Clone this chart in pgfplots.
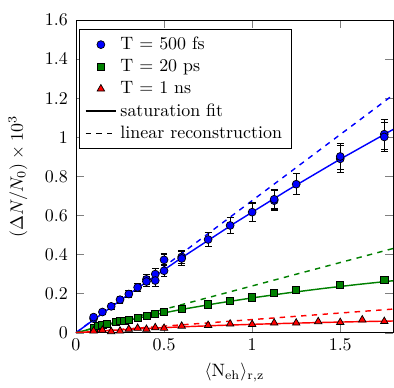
\documentclass[border=0pt]{standalone}
\usepackage{pgfplots}
\pgfplotsset{compat=1.18}
\definecolor{dgreen}{RGB}{0,128,0}
\begin{document}
\begin{tikzpicture}
\begin{axis}[
  scale only axis,
  width=177pt, height=174.5pt,
  xmin=0, xmax=1.8, ymin=0, ymax=1.6,
  xtick={0,0.5,1,1.5},
  ytick={0,0.2,0.4,0.6,0.8,1,1.2,1.4,1.6},
  yticklabel style={/pgf/number format/fixed},
  xlabel={$\langle \mathrm{N}_{\mathrm{eh}}\rangle_{\mathrm{r,z}}$},
  ylabel={$(\Delta N/N_0)\times 10^3$},
  ylabel shift=3pt,
  yticklabel shift=1pt,
  legend cell align=left,
  legend style={at={(0.01,0.97)}, anchor=north west},
]
% fits (forget plot)
\addplot[blue, thick, forget plot] coordinates {(0,0) (0.3,0.1972) (0.6,0.3839) (0.9,0.5608) (1.2,0.7287) (1.5,0.8883) (1.8,1.0402)};
\addplot[blue, thick, dashed, forget plot] coordinates {(0,0) (1.8,1.217)};
\addplot[dgreen, thick, forget plot] coordinates {(0,0) (0.2,0.0449) (0.4,0.0843) (0.6,0.1192) (0.8,0.1503) (1.0,0.1782) (1.2,0.2034) (1.4,0.2262) (1.6,0.2470) (1.8,0.2660)};
\addplot[dgreen, thick, dashed, forget plot] coordinates {(0,0) (1.8,0.431)};
\addplot[red, thick, forget plot] coordinates {(0,0) (0.2,0.0121) (0.4,0.0219) (0.6,0.0301) (0.8,0.0370) (1.0,0.0429) (1.2,0.0480) (1.4,0.0525) (1.6,0.0565) (1.8,0.0600)};
\addplot[red, thick, dashed, forget plot] coordinates {(0,0) (1.8,0.121)};
% data
\addplot[only marks, mark=*, mark size=2.2pt, mark options={fill=blue, draw=black},
  error bars/.cd, y dir=both, y explicit, error bar style={black, semithick},
  error mark options={rotate=90, mark size=1.9pt, black, semithick}]
  coordinates {
  (0.1,0.072) +- (0,0.01)
  (0.1,0.080) +- (0,0.01)
  (0.15,0.106) +- (0,0.012)
  (0.2,0.135) +- (0,0.015)
  (0.25,0.169) +- (0,0.017)
  (0.3,0.198) +- (0,0.02)
  (0.35,0.232) +- (0,0.02)
  (0.4,0.273) +- (0,0.025)
  (0.4,0.262) +- (0,0.025)
  (0.45,0.300) +- (0,0.03)
  (0.45,0.267) +- (0,0.03)
  (0.5,0.373) +- (0,0.03)
  (0.5,0.317) +- (0,0.03)
  (0.6,0.388) +- (0,0.035)
  (0.6,0.380) +- (0,0.035)
  (0.75,0.477) +- (0,0.038)
  (0.875,0.549) +- (0,0.043)
  (1.0,0.617) +- (0,0.047)
  (1.125,0.676) +- (0,0.05)
  (1.125,0.683) +- (0,0.05)
  (1.25,0.760) +- (0,0.055)
  (1.5,0.890) +- (0,0.068)
  (1.5,0.902) +- (0,0.068)
  (1.75,1.016) +- (0,0.076)
  (1.75,1.002) +- (0,0.076)
  };
\addlegendentry{T = 500 fs}
\addplot[only marks, mark=square*, mark size=2pt, mark options={fill=dgreen, draw=black}]
  coordinates {
  (0.1,0.024) (0.125,0.036) (0.15,0.039) (0.175,0.046) (0.225,0.056) (0.25,0.059)
  (0.275,0.062) (0.3,0.065) (0.35,0.076) (0.4,0.085) (0.45,0.096) (0.5,0.106)
  (0.6,0.123) (0.75,0.145) (0.875,0.164) (1.0,0.181) (1.125,0.203) (1.25,0.219)
  (1.5,0.244) (1.75,0.270)
  };
\addlegendentry{T = 20 ps}
\addplot[only marks, mark=triangle*, mark size=2.4pt, mark options={fill=red, draw=black}]
  coordinates {
  (0.1,0.009) (0.15,0.013) (0.2,0.006) (0.25,0.009) (0.3,0.018) (0.35,0.023)
  (0.4,0.018) (0.45,0.026) (0.5,0.023) (0.6,0.034) (0.75,0.038) (0.875,0.045)
  (1.0,0.043) (1.125,0.050) (1.25,0.050) (1.375,0.057) (1.5,0.053) (1.625,0.066)
  (1.75,0.058)
  };
\addlegendentry{T = 1 ns}
\addlegendimage{black, thick}
\addlegendentry{saturation fit}
\addlegendimage{black, thick, dashed}
\addlegendentry{linear reconstruction}
\end{axis}
\path ([xshift=-42.4pt,yshift=11.2pt]current axis.north west) rectangle ([xshift=0.5pt,yshift=-29pt]current axis.south east);
\end{tikzpicture}
\end{document}
